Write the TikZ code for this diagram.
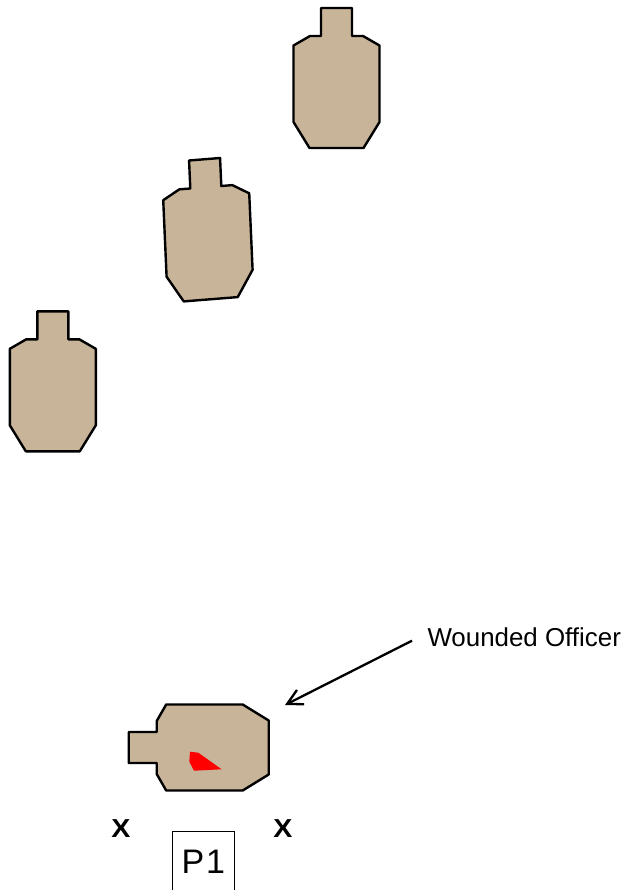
\documentclass[tikz,border=0pt]{standalone}
\usepackage{fontspec}
\setmainfont{Liberation Sans}
\newfontfamily\xboldfont{Liberation Sans Bold}
\usetikzlibrary{arrows.meta}
\definecolor{targettan}{RGB}{200,180,152}
\definecolor{woundred}{RGB}{255,0,0}
\tikzset{
  targetline/.style={draw=black, fill=targettan, line width=2.4pt, line join=round},
  target/.pic={\path[targetline] (-15.5,-28) -- (15.5,-28) -- (15.5,0) -- (26.5,0) -- (43,9.5) -- (43,86) -- (27,112) -- (-27,112) -- (-43,86) -- (-43,9.5) -- (-26.5,0) -- (-15.5,0) -- cycle;},
  pointer/.style={line width=2.3pt, -{Straight Barb[length=15pt,width=16pt]}},
  xmark/.style={inner sep=0pt, font=\xboldfont\fontsize{26}{30}\selectfont},
  labeltext/.style={anchor=west, inner xsep=15.3pt, inner ysep=0pt, font=\fontsize{25.9}{30}\selectfont},
  posbox/.style={draw, line width=1pt, minimum width=61.3pt, minimum height=62pt, inner sep=0pt, font=\fontsize{34}{40}\selectfont}
}
\begin{document}
\begin{tikzpicture}[x=1pt,y=-1pt]
\useasboundingbox (0,0) rectangle (631,890);
\clip (0,0) rectangle (631,890);
% upright targets
\pic at (336.5,36) {target};
\pic at (52.8,339.3) {target};
\coordinate (midorigin) at (205.8,187.25);
\begin{scope}[x={(1pt,0.08pt)}, y={(0.044pt,-1pt)}]
  \pic at (midorigin) {target};
\end{scope}
% wounded officer (lying down)
\pic[rotate=90] at (156.7,747.5) {target};
\fill[woundred] (190,751.7) -- (198.3,752.7) -- (221.7,769.3) -- (194,770.7) -- (189.3,761.7) -- cycle;
% label and arrow
\node[labeltext] (label) at (412,637) {Wounded Officer};
\coordinate (woundtip) at (285,705);
\draw[pointer] ([yshift=-3.7pt]label.west) -- (woundtip);
% X marks and P1
\node[xmark] (xleft) at (121,828.5) {\scalebox{1.1}[1]{X}};
\node[xmark] (xright) at (283,828.5) {\scalebox{1.1}[1]{X}};
\node[posbox] (p1) at (203.35,862) {P\kern2pt 1};
\end{tikzpicture}
\end{document}
